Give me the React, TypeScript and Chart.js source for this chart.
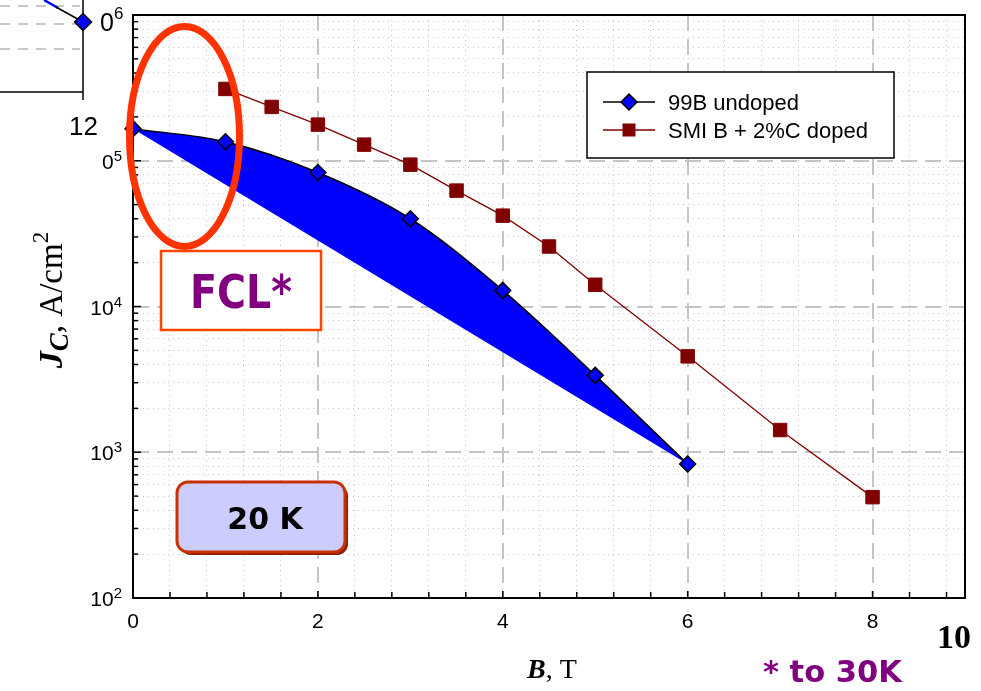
import { useEffect, useRef } from 'react';
import { Chart, registerables } from 'chart.js';

Chart.register(...registerables);

// ---------------- data ----------------
const undopedField = [0, 1, 2, 3, 4, 5, 6];
const undopedJc = [166000, 135000, 83000, 40000, 12900, 3370, 830];
const dopedField = [1, 1.5, 2, 2.5, 3, 3.5, 4, 4.5, 5, 6, 7, 8];
const dopedJc = [311000, 234000, 177000, 129000, 94000, 62400, 42000, 25800, 14100, 4550, 1420, 492];
const bandLowerField = [0, 6];
const bandLowerJc = [166000, 830];
const seriesNames = ['99B undoped', 'SMI B + 2%C doped'];
const xTickValues = [0, 0.4, 0.8, 1.2, 1.6, 2, 2.4, 2.8, 3.2, 3.6, 4, 4.4, 4.8, 5.2, 5.6, 6, 6.4, 6.8, 7.2, 7.6, 8, 8.4, 8.8];
const xLabelValues = [0, 2, 4, 6, 8];
const yDecades = [100, 1000, 10000, 100000];
const yMinorMultipliers = [1, 2, 3, 4, 5, 6, 7, 8, 9];
const yLabelValues = [100, 1000, 10000, 100000];
const yLabelBases = ['10', '10', '10', '0'];
const yLabelExps = ['2', '3', '4', '5'];

const SANS = "'Liberation Sans', Arial, sans-serif";
const SERIF = "'Liberation Serif', 'Times New Roman', serif";
const VERD = "'DejaVu Sans', Verdana, sans-serif";

const isXMajor = (v: number) => xLabelValues.some((m) => Math.abs(m - v) < 1e-9);

function fitText(ctx: CanvasRenderingContext2D, text: string, cx: number, baseline: number, font: string, width: number, color: string) {
  ctx.save();
  ctx.font = font;
  ctx.fillStyle = color;
  ctx.textAlign = 'left';
  ctx.textBaseline = 'alphabetic';
  const w = ctx.measureText(text).width;
  ctx.translate(cx - width / 2, baseline);
  ctx.scale(width / w, 1);
  ctx.fillText(text, 0, 0);
  ctx.restore();
}

function roundRect(ctx: CanvasRenderingContext2D, x: number, y: number, w: number, h: number, r: number) {
  ctx.beginPath();
  ctx.moveTo(x + r, y);
  ctx.lineTo(x + w - r, y);
  ctx.arcTo(x + w, y, x + w, y + r, r);
  ctx.lineTo(x + w, y + h - r);
  ctx.arcTo(x + w, y + h, x + w - r, y + h, r);
  ctx.lineTo(x + r, y + h);
  ctx.arcTo(x, y + h, x, y + h - r, r);
  ctx.lineTo(x, y + r);
  ctx.arcTo(x, y, x + r, y, r);
  ctx.closePath();
}

function diamond(ctx: CanvasRenderingContext2D, x: number, y: number, r: number) {
  ctx.beginPath();
  ctx.moveTo(x - r, y);
  ctx.lineTo(x, y - r);
  ctx.lineTo(x + r, y);
  ctx.lineTo(x, y + r);
  ctx.closePath();
  ctx.fillStyle = '#0000FF';
  ctx.fill();
  ctx.strokeStyle = '#000';
  ctx.lineWidth = 1.5;
  ctx.stroke();
}

function line(ctx: CanvasRenderingContext2D, x1: number, y1: number, x2: number, y2: number) {
  ctx.beginPath();
  ctx.moveTo(x1, y1);
  ctx.lineTo(x2, y2);
  ctx.stroke();
}

const decorPlugin = {
  id: 'decor',
  afterDraw(chart: any) {
    const ctx: CanvasRenderingContext2D = chart.ctx;
    const { left, right, top, bottom } = chart.chartArea;
    const xs = chart.scales.x;
    const ys = chart.scales.y;
    ctx.save();

    // frame
    ctx.strokeStyle = '#000';
    ctx.lineWidth = 2;
    ctx.setLineDash([]);
    ctx.strokeRect(left, top, right - left, bottom - top);

    // inside ticks
    ctx.lineWidth = 1.5;
    for (const t of ys.ticks) {
      const py = ys.getPixelForValue(t.value);
      const len = t.major ? 8 : 5;
      line(ctx, left, py, left + len, py);
    }
    for (const t of xs.ticks) {
      const px = xs.getPixelForValue(t.value);
      if (px > right - 1) continue;
      const len = isXMajor(t.value) ? 7 : 6;
      line(ctx, px, bottom, px, bottom - len);
    }

    // y tick labels with superscripts
    ctx.fillStyle = '#000';
    ctx.textAlign = 'left';
    ctx.textBaseline = 'alphabetic';
    yLabelValues.forEach((v, i) => {
      const py = ys.getPixelForValue(v);
      const base = yLabelBases[i];
      const exp = yLabelExps[i];
      const baseFont = `21px ${SANS}`;
      const expFont = `15px ${SANS}`;
      ctx.font = expFont;
      const ew = ctx.measureText(exp).width;
      ctx.font = baseFont;
      const bw = ctx.measureText(base).width;
      const rightX = 122;
      const baseline = py + 8;
      ctx.fillText(base, rightX - ew - bw, baseline);
      ctx.font = expFont;
      ctx.fillText(exp, rightX - ew, baseline - 8);
    });

    // legend box
    ctx.fillStyle = '#fff';
    ctx.fillRect(587, 72, 307, 86);
    ctx.strokeStyle = '#000';
    ctx.lineWidth = 1.5;
    ctx.strokeRect(587, 72, 307, 86);
    ctx.lineWidth = 1.5;
    ctx.strokeStyle = '#000';
    line(ctx, 603, 102, 655, 102);
    diamond(ctx, 629, 102, 8);
    ctx.strokeStyle = '#800000';
    ctx.lineWidth = 1.3;
    line(ctx, 603, 130, 655, 130);
    ctx.fillStyle = '#800000';
    ctx.fillRect(622.5, 123.5, 13, 13);
    ctx.fillStyle = '#000';
    ctx.font = `22px ${SANS}`;
    ctx.textAlign = 'left';
    ctx.fillText(seriesNames[0], 668, 110);
    ctx.fillText(seriesNames[1], 668, 138);

    // red ellipse
    ctx.beginPath();
    ctx.ellipse(184.5, 136.5, 55, 110, 0, 0, Math.PI * 2);
    ctx.strokeStyle = '#FF3300';
    ctx.lineWidth = 7;
    ctx.stroke();

    // FCL* box
    ctx.fillStyle = '#fff';
    ctx.fillRect(161, 251, 160, 79);
    ctx.strokeStyle = '#FF4500';
    ctx.lineWidth = 2.5;
    ctx.strokeRect(161, 251, 160, 79);
    fitText(ctx, 'FCL*', 241, 308, `bold 47px ${VERD}`, 102, '#800080');

    // 20 K box
    roundRect(ctx, 180, 485, 168, 70, 11);
    ctx.fillStyle = '#8A1C00';
    ctx.fill();
    roundRect(ctx, 177, 482, 168, 70, 11);
    ctx.fillStyle = '#CCCCFF';
    ctx.fill();
    ctx.strokeStyle = '#C83200';
    ctx.lineWidth = 3;
    ctx.stroke();
    ctx.fillStyle = '#000';
    ctx.font = `bold 30px ${VERD}`;
    ctx.textAlign = 'center';
    ctx.fillText('20 K', 265, 529);

    // x title
    ctx.textAlign = 'left';
    ctx.font = `bold italic 28px ${SERIF}`;
    const bW = ctx.measureText('B').width;
    ctx.font = `28px ${SERIF}`;
    const restW = ctx.measureText(', T').width;
    const xx = 552 - (bW + restW) / 2;
    ctx.font = `bold italic 28px ${SERIF}`;
    ctx.fillText('B', xx, 678);
    ctx.font = `28px ${SERIF}`;
    ctx.fillText(', T', xx + bW, 678);

    // y title (rotated)
    ctx.save();
    ctx.translate(62, 300);
    ctx.rotate(-Math.PI / 2);
    const parts: [string, string, number][] = [
      ['J', `bold italic 34px ${SERIF}`, 0],
      ['C', `bold italic 27px ${SERIF}`, 6],
      [', A/cm', `33px ${SERIF}`, 0],
      ['2', `23px ${SERIF}`, -14],
    ];
    let total = 0;
    for (const p of parts) {
      ctx.font = p[1];
      total += ctx.measureText(p[0]).width;
    }
    let px = -total / 2;
    for (const p of parts) {
      ctx.font = p[1];
      ctx.fillText(p[0], px, p[2]);
      px += ctx.measureText(p[0]).width;
    }
    ctx.restore();

    // "10" and "* to 30K"
    ctx.fillStyle = '#000';
    ctx.font = `bold 34px ${SERIF}`;
    ctx.textAlign = 'left';
    ctx.fillText('10', 937, 648);
    fitText(ctx, '* to 30K', 832.5, 682, `bold 30px ${VERD}`, 139, '#800080');

    // inset fragment (top-left)
    ctx.strokeStyle = '#c8c8c8';
    ctx.lineWidth = 2;
    ctx.setLineDash([10, 8]);
    for (const gy of [6, 24, 49]) line(ctx, 0, gy, 80, gy);
    ctx.setLineDash([]);
    ctx.strokeStyle = '#000';
    ctx.lineWidth = 1.5;
    line(ctx, 0, 92, 83, 92);
    line(ctx, 83, 0, 83, 100);
    ctx.strokeStyle = '#0000FF';
    ctx.lineWidth = 2.5;
    line(ctx, 44, 0, 58, 8);
    ctx.strokeStyle = '#000';
    ctx.lineWidth = 1.5;
    line(ctx, 56, 7, 83, 22);
    diamond(ctx, 83, 22, 8.5);
    ctx.fillStyle = '#000';
    ctx.font = `25px ${SANS}`;
    ctx.fillText('0', 100, 31);
    ctx.font = `17px ${SANS}`;
    ctx.fillText('6', 114, 19);
    ctx.font = `26px ${SANS}`;
    ctx.textAlign = 'center';
    ctx.fillText('12', 83.5, 135);

    ctx.restore();
  },
};

export default function App() {
  const ref = useRef<HTMLCanvasElement | null>(null);

  useEffect(() => {
    document.body.style.margin = '0';
    const canvas = ref.current;
    if (!canvas) return;

    const yTicks: { value: number; major: boolean }[] = [];
    for (const d of yDecades) {
      for (const m of yMinorMultipliers) yTicks.push({ value: d * m, major: m === 1 });
    }
    yTicks.push({ value: 1000000, major: true });

    const chart = new Chart(canvas, {
      type: 'line',
      data: {
        datasets: [
          {
            label: 'lower',
            data: bandLowerField.map((x, i) => ({ x, y: bandLowerJc[i] })),
            borderColor: 'rgba(0,0,0,0)',
            borderWidth: 0,
            pointRadius: 0,
            fill: false,
            clip: false,
          },
          {
            label: seriesNames[0],
            data: undopedField.map((x, i) => ({ x, y: undopedJc[i] })),
            borderColor: '#000',
            borderWidth: 1.5,
            cubicInterpolationMode: 'monotone',
            fill: { target: 0, above: '#0000FF', below: '#0000FF' },
            backgroundColor: '#0000FF',
            pointStyle: 'rectRot',
            pointRadius: 8,
            pointBackgroundColor: '#0000FF',
            pointBorderColor: '#000',
            pointBorderWidth: 1.5,
            clip: false,
          },
          {
            label: seriesNames[1],
            data: dopedField.map((x, i) => ({ x, y: dopedJc[i] })),
            borderColor: '#800000',
            borderWidth: 1.3,
            fill: false,
            pointStyle: 'rect',
            pointRadius: 9.5,
            pointBackgroundColor: '#800000',
            pointBorderColor: '#800000',
            pointBorderWidth: 1,
            clip: false,
          },
        ],
      },
      options: {
        responsive: true,
        maintainAspectRatio: false,
        animation: false,
        layout: { padding: { top: 15, right: 16, left: 0, bottom: 0 } },
        plugins: { legend: { display: false }, tooltip: { enabled: false } },
        scales: {
          x: {
            type: 'linear',
            min: 0,
            max: 9,
            afterBuildTicks: (s: any) => {
              s.ticks = xTickValues.map((v) => ({ value: v, major: isXMajor(v) }));
            },
            afterFit: (s: any) => {
              s.height = 93;
            },
            ticks: {
              autoSkip: false,
              maxRotation: 0,
              padding: 12,
              color: '#000',
              font: { family: SANS, size: 21 },
              callback: (v: any) => (isXMajor(Number(v)) ? String(v) : ''),
            },
            grid: {
              drawTicks: false,
              color: (c: any) => (c.tick && isXMajor(c.tick.value) ? '#c4c4c4' : '#c8c8c8'),
              lineWidth: (c: any) => (c.tick && isXMajor(c.tick.value) ? 2 : 1),
            },
            border: {
              display: false,
              dash: (c: any) => (c.tick ? (isXMajor(c.tick.value) ? [16, 8] : [1, 4]) : []),
            },
          },
          y: {
            type: 'logarithmic',
            min: 100,
            max: 1000000,
            afterBuildTicks: (s: any) => {
              s.ticks = yTicks.map((t) => ({ ...t }));
            },
            afterFit: (s: any) => {
              s.width = 133;
            },
            ticks: { display: false, autoSkip: false },
            grid: {
              drawTicks: false,
              color: (c: any) => (c.tick && c.tick.major ? '#c4c4c4' : '#c8c8c8'),
              lineWidth: (c: any) => (c.tick && c.tick.major ? 2 : 1),
            },
            border: {
              display: false,
              dash: (c: any) => (c.tick ? (c.tick.major ? [16, 8] : [1, 4]) : []),
            },
          },
        },
      } as any,
      plugins: [decorPlugin],
    });

    return () => chart.destroy();
  }, []);

  return (
    <div style={{ position: 'absolute', left: 0, top: 0, width: 981, height: 691, background: '#fff' }}>
      <canvas ref={ref} />
    </div>
  );
}
